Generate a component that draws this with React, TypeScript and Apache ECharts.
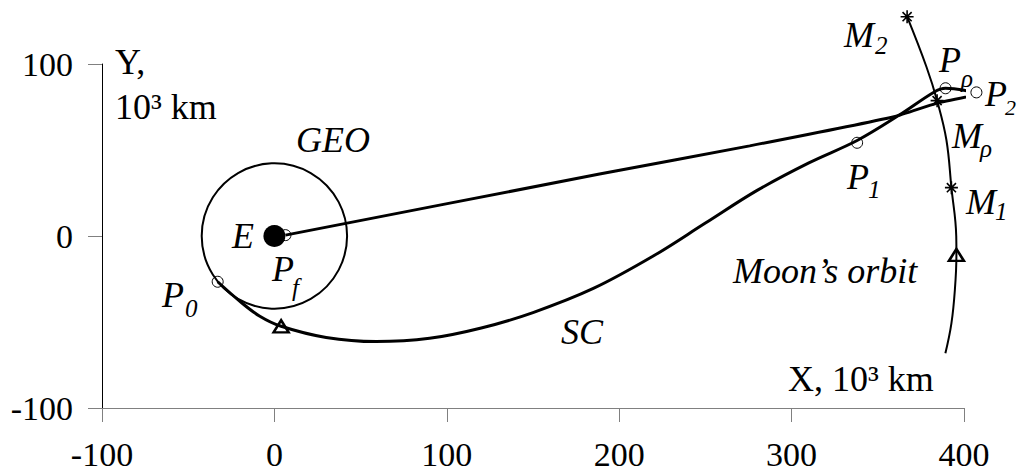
import React, { useEffect, useRef } from 'react';
import * as echarts from 'echarts';

// ---- data (10^3 km) ----
const xTicks = [-100, 0, 100, 200, 300, 400];
const yTicks = [-100, 0, 100];

const scOutbound: [number, number][] = [
  [-32.9, -26.6], [-20, -38], [-8.7, -46.5], [3.9, -52.5], [30, -59], [59, -61.4],
  [90, -59.5], [120, -53.5], [150, -44.5], [185, -30.5], [220, -11.5], [250, 7.5],
  [280, 26.5], [310, 42.5], [338, 55.5], [362, 70], [383, 83.9],
  [389.3, 85.9], [407.2, 83.5], [412, 83],
];
const scReturn: [number, number][] = [
  [412, 83], [384, 77.1], [360, 69.5], [275.7, 52.4], [188.6, 36], [6.4, 0.5],
];
const moonOrbit: [number, number][] = [
  [367, 127.5], [378.2, 98.4], [384.4, 78.7], [389.8, 55.8], [392.7, 28.1],
  [395.5, 0], [395.6, -11], [394.7, -31.4], [392.7, -50.8], [389.2, -68.2],
];
const geoOrbit: [number, number, number][] = [[0, 0, 42.164]];
const earth: [number, number][] = [[0, 0]];
const openPoints: [number, number][] = [
  [-32.9, -26.6], [6.4, 0.5], [338, 54.2], [389.3, 85.9], [407.2, 83.5],
];
const trianglePoints: [number, number][] = [[3.9, -52.5], [395.6, -11]];
const moonPoints: [number, number][] = [[367, 127.5], [384.4, 78.7], [392.7, 28.1]];

// ---- annotation layout (pixels) ----
type Lbl = { t: string; x: number; y: number; it?: boolean; s?: number };
const labelLayout: Lbl[] = [
  { t: 'Y,', x: 115, y: 62, s: 36 },
  { t: '10³ km', x: 115, y: 107, s: 36 },
  { t: 'X, 10³ km', x: 788, y: 379, s: 36 },
  { t: 'GEO', x: 296, y: 140, it: true, s: 36 },
  { t: 'E', x: 232, y: 236, it: true, s: 36 },
  { t: 'P', x: 272, y: 269, it: true, s: 36 },
  { t: 'f', x: 292, y: 287, it: true, s: 25 },
  { t: 'P', x: 162, y: 295, it: true, s: 36 },
  { t: '0', x: 185, y: 308, it: true, s: 25 },
  { t: 'SC', x: 561, y: 332, it: true, s: 36 },
  { t: 'P', x: 847, y: 177, it: true, s: 36 },
  { t: '1', x: 868, y: 189, it: true, s: 25 },
  { t: 'Moon’s orbit', x: 733, y: 271, it: true, s: 36 },
  { t: 'M', x: 844, y: 35, it: true, s: 36 },
  { t: '2', x: 875, y: 45, it: true, s: 25 },
  { t: 'P', x: 939, y: 60, it: true, s: 36 },
  { t: 'ρ', x: 961, y: 78, it: true, s: 25 },
  { t: 'P', x: 985, y: 94, it: true, s: 36 },
  { t: '2', x: 1005, y: 107, it: true, s: 22 },
  { t: 'M', x: 952, y: 136, it: true, s: 36 },
  { t: 'ρ', x: 980, y: 148, it: true, s: 25 },
  { t: 'M', x: 966, y: 202, it: true, s: 36 },
  { t: '1', x: 995, y: 211, it: true, s: 25 },
];

const FONT = 'Liberation Serif';
const STAR = 'path://M0,-10L0,10M-10,0L10,0M-7,-7L7,7M-7,7L7,-7';

export default function App() {
  const ref = useRef<HTMLDivElement>(null);
  useEffect(() => {
    if (!ref.current) return;
    const chart = echarts.init(ref.current, null, { renderer: 'svg' });
    chart.setOption({
      animation: false,
      backgroundColor: '#fff',
      grid: { left: 102, right: 53, top: 64, bottom: 65, outerBoundsMode: 'none' },
      xAxis: {
        type: 'value',
        min: xTicks[0],
        max: xTicks[xTicks.length - 1],
        interval: 100,
        splitLine: { show: false },
        axisLine: { onZero: false, lineStyle: { color: '#808080', width: 1 } },
        axisTick: { show: true, inside: false, length: 14, lineStyle: { color: '#808080' } },
        axisLabel: { color: '#000', fontFamily: FONT, fontSize: 34, margin: 29 },
      },
      yAxis: {
        type: 'value',
        min: yTicks[0],
        max: yTicks[yTicks.length - 1],
        interval: 100,
        splitLine: { show: false },
        axisLine: { show: true, onZero: false, lineStyle: { color: '#000', width: 1 } },
        axisTick: { show: true, inside: false, length: 14, lineStyle: { color: '#808080' } },
        axisLabel: { color: '#000', fontFamily: FONT, fontSize: 34, margin: 29 },
      },
      series: [
        {
          type: 'custom',
          data: geoOrbit,
          encode: { x: 0, y: 1 },
          clip: false,
          silent: true,
          renderItem: (_p: any, api: any) => {
            const c = api.coord([api.value(0), api.value(1)]);
            const s = api.size([api.value(2), api.value(2)]);
            return {
              type: 'circle',
              shape: { cx: c[0], cy: c[1], r: s[0] },
              style: { fill: 'none', stroke: '#000', lineWidth: 2 },
            };
          },
        },
        {
          type: 'line', data: moonOrbit, smooth: 0.4, showSymbol: false, clip: false,
          lineStyle: { color: '#000', width: 2 },
        },
        {
          type: 'line', data: scOutbound, smooth: 0.35, showSymbol: false, clip: false,
          lineStyle: { color: '#000', width: 3 },
        },
        {
          type: 'line', data: scReturn, smooth: 0.15, showSymbol: false, clip: false,
          lineStyle: { color: '#000', width: 3 },
        },
        {
          type: 'scatter', data: earth, symbol: 'circle', symbolSize: 22, clip: false,
          itemStyle: { color: '#000', opacity: 1 },
        },
        {
          type: 'scatter', data: openPoints, symbol: 'circle', symbolSize: 11, clip: false,
          itemStyle: { color: 'rgba(0,0,0,0)', borderColor: '#000', borderWidth: 1, opacity: 1 },
        },
        {
          type: 'scatter', data: trianglePoints, symbol: 'triangle', symbolSize: [15, 12], clip: false,
          itemStyle: { color: '#fff', borderColor: '#000', borderWidth: 2.5, opacity: 1 },
        },
        {
          type: 'scatter', data: moonPoints, symbol: STAR, symbolSize: 13, clip: false,
          itemStyle: { color: 'none', borderColor: '#000', borderWidth: 1.6, opacity: 1 },
        },
      ],
      graphic: labelLayout.map((l) => ({
        type: 'text',
        x: l.x,
        y: l.y,
        silent: true,
        style: {
          text: l.t,
          fill: '#000',
          font: `${l.it ? 'italic ' : ''}${l.s ?? 36}px "${FONT}"`,
          align: 'left',
          verticalAlign: 'middle',
        },
      })),
    });
    return () => chart.dispose();
  }, []);
  return (
    <div
      ref={ref}
      style={{ position: 'fixed', left: 0, top: 0, width: 1017, height: 473, background: '#fff' }}
    />
  );
}
